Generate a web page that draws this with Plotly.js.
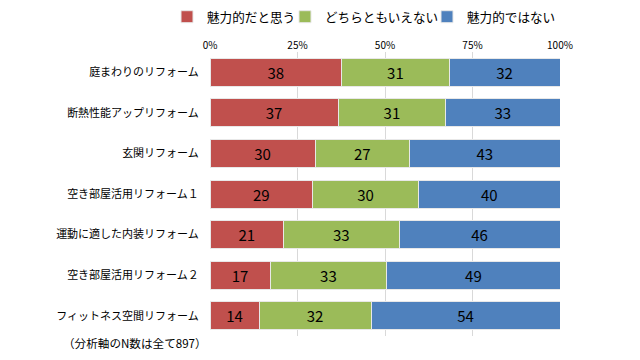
<!DOCTYPE html>
<html><head><meta charset="utf-8">
<script src="https://cdn.plot.ly/plotly-3.0.1.min.js"></script>
<style>html,body{margin:0;padding:0;background:#fff}#c{width:640px;height:360px}</style>
</head><body><div id="c"></div>
<script>
const categories = ["庭まわりのリフォーム","断熱性能アップリフォーム","玄関リフォーム","空き部屋活用リフォーム１","運動に適した内装リフォーム","空き部屋活用リフォーム２","フィットネス空間リフォーム"];
const seriesNames = ["魅力的だと思う","どちらともいえない","魅力的ではない"];
const attractive = [38,37,30,29,21,17,14];
const neutral = [31,31,27,30,33,33,32];
const notAttractive = [32,33,43,40,46,49,54];
const tickVals = [0,25,50,75,100];
const tickText = ["0%","25%","50%","75%","100%"];
const footnote = "（分析軸のN数は全て897）";

const colors = ["#C0504D","#9BBB59","#4F81BD"];
const legendIds = ["legend","legend2","legend3"];
const legendTextX = [207,325,467];
const font = "Noto Sans CJK JP, sans-serif";
const data = [attractive, neutral, notAttractive].map((vals,i)=>({
  type:"bar", orientation:"h", name:seriesNames[i], x:vals, y:categories,
  text:vals.map(String), textposition:"inside", insidetextanchor:"middle",
  textfont:{family:font,size:15,color:"#000"},
  marker:{color:colors[i], line:{color:"#e8e8e8",width:1}},
  hoverinfo:"none", width:0.69, legend:legendIds[i]
}));
const layout = {
  width:640,height:360,
  margin:{l:210,r:80,t:52,b:24},
  barmode:"stack", barnorm:"percent",
  paper_bgcolor:"#fff", plot_bgcolor:"#fff",
  font:{family:font,color:"#000"},
  xaxis:{side:"top",range:[0,100],tickvals:tickVals,ticktext:tickText,
    tickfont:{size:10,family:font},showgrid:true,gridcolor:"#d9d9d9",gridwidth:1,
    zeroline:false,showline:false,ticks:"",fixedrange:true},
  yaxis:{autorange:"reversed",tickfont:{size:11,family:font},ticks:"outside",ticklen:8,
    tickcolor:"rgba(0,0,0,0)",showgrid:false,zeroline:false,showline:false},
  showlegend:true,
  annotations:[{text:footnote,xref:"paper",yref:"paper",x:-0.426,y:-0.025,xanchor:"left",yanchor:"middle",
    showarrow:false,font:{size:11.6,family:font,color:"#000"}}]
};
legendIds.forEach((id,i)=>{
  layout[id] = {orientation:"h",xref:"container",yref:"container",x:(legendTextX[i]-40)/640,y:(360-17)/360,
    xanchor:"left",yanchor:"middle",font:{size:12.6,family:font},itemwidth:30,bgcolor:"rgba(0,0,0,0)"};
});
Plotly.newPlot("c",data,layout,{displayModeBar:false,staticPlot:true});
</script></body></html>
